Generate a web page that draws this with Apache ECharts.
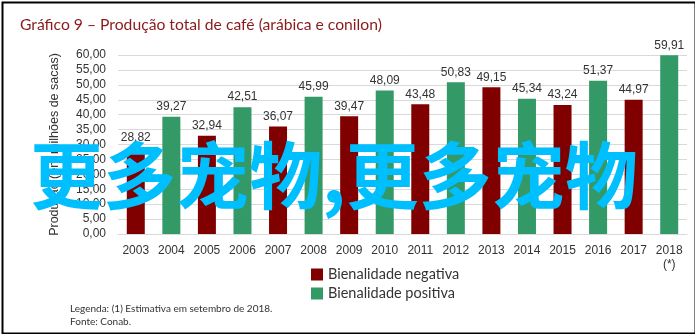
<!DOCTYPE html>
<html><head><meta charset="utf-8">
<script src="https://cdn.jsdelivr.net/npm/echarts@6/dist/echarts.min.js"></script>
<style>html,body{margin:0;padding:0;background:#fff}#c{width:695px;height:334px}</style>
</head><body><div id="c"></div>
<script>
const years = ['2003','2004','2005','2006','2007','2008','2009','2010','2011','2012','2013','2014','2015','2016','2017','2018\n(*)'];
const negativa = [28.82,null,32.94,null,36.07,null,39.47,null,43.48,null,49.15,null,43.24,null,44.97,null];
const positiva = [null,39.27,null,42.51,null,45.99,null,48.09,null,50.83,null,45.34,null,51.37,null,59.91];
const fmt = v => v.toFixed(2).replace('.', ',');
const chart = echarts.init(document.getElementById('c'));
const lbl = {show:true, position:'top', distance:4, color:'#333', fontSize:12, fontFamily:'Liberation Sans', formatter:p=>fmt(p.value)};
chart.setOption({
  animation:false,
  title:{text:'Gráfico 9 – Produção total de café (arábica e conilon)', left:15, top:12,
    textStyle:{color:'#8b1a1a', fontSize:15.7, fontWeight:'normal', fontFamily:'Lato'}},
  grid:{left:118, right:8, top:55, bottom:100},
  legend:{orient:'vertical', left:306, top:262, itemWidth:12, itemHeight:12, itemGap:4,
    textStyle:{fontSize:14.5, color:'#333', fontFamily:'Lato'}, icon:'rect'},
  xAxis:{type:'category', data:years, axisTick:{show:false},
    axisLine:{lineStyle:{color:'#d9d9d9'}},
    axisLabel:{color:'#333', fontSize:12, fontFamily:'Liberation Sans', margin:10, lineHeight:14, interval:0}},
  yAxis:{type:'value', min:0, max:60, interval:5,
    name:'Produção (em milhões de sacas)', nameLocation:'middle', nameGap:57,
    nameTextStyle:{color:'#333', fontSize:12.5, fontFamily:'Liberation Sans'},
    axisLabel:{formatter:v=>fmt(v), color:'#333', fontSize:12, fontFamily:'Liberation Sans', margin:12},
    splitLine:{lineStyle:{color:'#d9d9d9'}}},
  series:[
    {name:'Bienalidade negativa', type:'bar', data:negativa, barWidth:18, barGap:'-100%', itemStyle:{color:'#800000'}, label:lbl},
    {name:'Bienalidade positiva', type:'bar', data:positiva, barWidth:18, itemStyle:{color:'#339966'}, label:lbl}
  ],
  graphic:[
    {type:'rect', left:0, top:0, shape:{width:693, height:331}, style:{fill:'none', stroke:'#000', lineWidth:2}, silent:true},
    {type:'text', left:70, top:302, style:{text:'Legenda: (1) Estimativa em setembro de 2018.\nFonte: Conab.', fill:'#333', fontSize:10, lineHeight:13, fontFamily:'Lato'}},
    {type:'text', left:30, top:139, z:100, style:{text:'更多宠物,更多宠物', fill:'#00bfff', fontSize:73, fontWeight:'bold', fontFamily:'Noto Sans CJK SC'}}
  ]
});
</script></body></html>
